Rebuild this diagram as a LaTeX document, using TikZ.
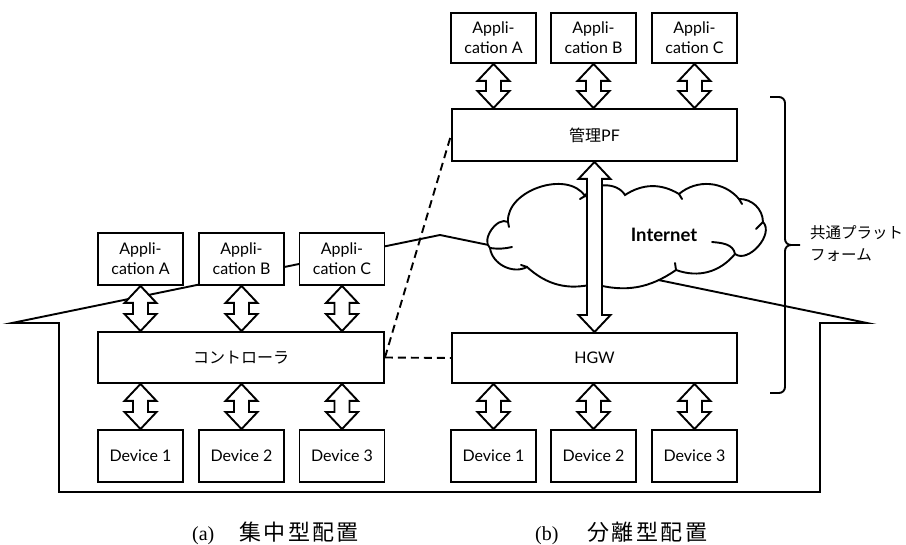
\documentclass[tikz,border=0pt]{standalone}
\usepackage{fontspec}
\setmainfont{Lato}
\newfontfamily\jpf{Noto Sans CJK JP}
\newfontfamily\capf{Liberation Serif}
\usetikzlibrary{calc}
\newcommand\jk{\kern2.4pt}
\newcommand\dblarr[2]{%
  \draw[ln, fill=white, line join=miter] let \p1=(#1), \p2=(#2) in
    (\x1,\y1) -- (\x1+16pt,\y1-17pt) -- (\x1+7.5pt,\y1-17pt) -- (\x1+7.5pt,\y2+17pt)
    -- (\x1+16pt,\y2+17pt) -- (\x1,\y2) -- (\x1-16pt,\y2+17pt) -- (\x1-7.5pt,\y2+17pt)
    -- (\x1-7.5pt,\y1-17pt) -- (\x1-16pt,\y1-17pt) -- cycle;}
\tikzset{
  ln/.style={line width=1.9pt},
  box/.style={draw, ln, fill=white, inner sep=0pt, minimum width=85pt, minimum height=52pt,
    align=center, font=\fontsize{16}{20}\selectfont},
  widebox/.style={box, minimum width=286pt, minimum height=51pt},
  dsh/.style={ln, dash pattern=on 8pt off 5pt},
  inner/.style={ln, line cap=round},
}
\begin{document}
\begin{tikzpicture}[x=1pt, y=-1pt]
\useasboundingbox (0,0) rectangle (906,545);
% house outline
\coordinate (peak) at (440,235);
\draw[ln, line join=miter] (peak) -- (12,323) -- (59,323) -- (59,492) -- (820,492)
  -- (820,323) -- (867,323) -- cycle;
% cloud
\coordinate (cloud) at (627,237);
\coordinate (c1) at (508,222);
\coordinate (c2) at (585,196);
\coordinate (c3) at (625,195);
\coordinate (c4) at (679,194);
\coordinate (c5) at (739,199);
\coordinate (c6) at (763,222);
\coordinate (c7) at (735,254);
\coordinate (c8) at (676,270);
\coordinate (c9) at (594,284);
\coordinate (c10) at (527,267);
\coordinate (c11) at (490,248);
\draw[ln, fill=white] (c1) to[bend left=75] (c2) to[bend left=60] (c3)
  to[bend left=32] (c4) to[bend left=45] (c5) to[bend left=45] (c6)
  to[bend left=85] (c7) to[bend left=35] (c8) to[bend left=25] (c9)
  to[bend left=28] (c10) to[bend left=55] (c11) to[bend left=85] (c1) -- cycle;
\draw[inner] (c11) to[bend right=10] (512,247);
\draw[inner] (c1) -- (509,227);
\draw[inner] (c10) -- (521,265);
\draw[inner] (c2) -- (580,199);
\draw[inner] (c4) -- (682,199);
\draw[inner] (c5) -- (742,204);
\draw[inner] (c6) -- (756,229);
\draw[inner] (c7) to[out=100,in=-5] (712,242);
\draw[inner] (c8) -- (675,263);
\node[font=\bfseries\fontsize{18.5}{22}\selectfont] (inet) at (664,235) {Internet};
% left side boxes
\node[box] (lA) at (140.5,259) {Appli-\\cation A};
\node[box] (lB) at (241.5,259) {Appli-\\cation B};
\node[box] (lC) at (342,259) {Appli-\\cation C};
\node[widebox] (ctrl) at (241,357.5) {\jpf コントローラ};
\node[box] (ld1) at (140.5,456) {Device 1};
\node[box] (ld2) at (241.5,456) {Device 2};
\node[box] (ld3) at (342,456) {Device 3};
% right side boxes
\node[box, minimum height=50pt] (rA) at (493.5,38) {Appli-\\cation A};
\node[box, minimum height=50pt] (rB) at (593.5,38) {Appli-\\cation B};
\node[box, minimum height=50pt] (rC) at (694.5,38) {Appli-\\cation C};
\node[widebox, minimum width=285pt, minimum height=52pt] (pf) at (594.5,135) {{\jpf 管理}PF};
\node[widebox, minimum width=285pt, minimum height=50pt] (hgw) at (594.5,358) {HGW};
\node[box] (rd1) at (493.5,456) {Device 1};
\node[box] (rd2) at (593.5,456) {Device 2};
\node[box] (rd3) at (694.5,456) {Device 3};
% dashed links
\draw[dsh] (ctrl.east) -- (pf.west);
\draw[dsh] (ctrl.east) -- (hgw.west);
% double arrows
\foreach \a in {lA,lB,lC}{\dblarr{\a.south}{\a.south |- ctrl.north}}
\foreach \d in {ld1,ld2,ld3}{\dblarr{\d.north |- ctrl.south}{\d.north}}
\foreach \a in {rA,rB,rC}{\dblarr{\a.south}{\a.south |- pf.north}}
\foreach \d in {rd1,rd2,rd3}{\dblarr{\d.north |- hgw.south}{\d.north}}
\dblarr{pf.south}{hgw.north}
% brace
\draw[ln] (770,97) -- (779,97) to[out=0,in=90] (785,103) -- (785,239)
  to[out=-90,in=180] (791,245) -- (800,245);
\draw[ln] (770,393) -- (779,393) to[out=0,in=-90] (785,387) -- (785,251)
  to[out=90,in=180] (791,245);
\node[anchor=west, align=left, inner sep=0pt, font=\jpf\fontsize{15.5}{22}\selectfont]
  (plat) at (810,244) {共通プラット\\フォーム};
% captions
\node[anchor=west, inner sep=0pt] (capa) at (192,533)
  {\capf\fontsize{20}{24}\selectfont (a)\kern25pt\jpf\fontsize{22}{24}\selectfont 集\jk 中\jk 型\jk 配\jk 置};
\node[anchor=west, inner sep=0pt] (capb) at (535,533)
  {\capf\fontsize{20}{24}\selectfont (b)\kern29pt\jpf\fontsize{22}{24}\selectfont 分\jk 離\jk 型\jk 配\jk 置};
\end{tikzpicture}
\end{document}
